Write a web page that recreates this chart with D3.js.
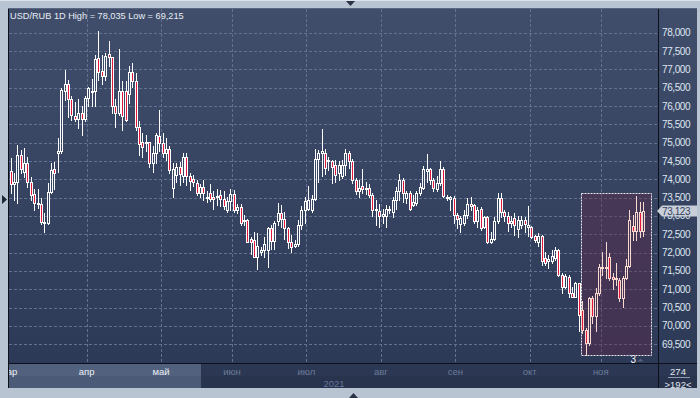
<!DOCTYPE html>
<html>
<head>
<meta charset="utf-8">
<script src="https://cdn.jsdelivr.net/npm/d3@7"></script>
<style>
  html, body { margin: 0; padding: 0; background: #b9c4d3; overflow: hidden; }
  svg { display: block; font-family: "Liberation Sans", Arial, sans-serif; }
</style>
</head>
<body>
<div id="chart"></div>
<script>
// daily USD/RUB candles (RUB)
const openPrices = [
  74.23, 73.86, 73.92, 74.66, 74.21, 74.45, 73.92, 73.60, 73.35, 73.33,
  72.83, 72.80, 73.65, 74.27, 74.71, 74.76, 76.42, 76.60, 76.20, 75.74,
  75.65, 75.82, 75.65, 76.21, 76.40, 76.40, 77.30, 76.96, 76.83, 77.41,
  77.33, 76.00, 75.80, 76.41, 76.40, 76.33, 76.92, 76.67, 75.42, 75.03,
  75.01, 75.01, 74.44, 74.71, 75.17, 74.99, 74.73, 74.82,
  73.76, 74.12, 74.33, 74.08, 74.62, 74.09, 74.00, 73.91, 73.64, 73.79,
  73.51, 73.64, 73.51, 73.51, 73.58, 73.46, 73.15, 73.42, 73.60, 73.17,
  73.24, 72.87, 72.88, 72.37, 72.35, 71.89, 72.03, 72.06, 72.06, 72.67,
  72.32, 72.85, 73.08, 72.91, 72.67, 72.28, 72.18, 72.24, 72.76, 73.17,
  73.19, 73.17, 73.46, 74.55, 74.71, 74.73, 74.49, 74.49,
  74.39, 74.17, 74.08, 74.39, 74.73, 74.49, 73.99, 73.67, 73.82, 73.73,
  73.76, 73.58, 73.17, 73.14, 73.00, 73.00, 73.19, 73.12, 73.44, 73.67,
  73.99, 73.49, 73.64, 73.30, 73.35, 73.62, 73.76, 74.24, 74.28, 73.97,
  73.73, 73.89, 74.28, 73.53, 73.46, 73.49, 73.03, 72.78, 72.80, 73.03,
  73.33, 73.30, 72.85, 73.19, 72.71, 72.97, 72.28,
  72.37, 72.85, 73.49, 73.12, 73.00, 72.80, 72.94, 72.64, 72.76, 72.89,
  72.71, 72.69, 72.46, 72.30, 72.46, 71.85, 71.78, 71.78, 71.85, 72.06,
  71.39, 71.07, 71.33, 70.91, 70.80, 71.17, 70.44, 69.89, 69.53, 70.76,
  70.28, 70.89, 71.60, 71.57, 71.89, 71.33, 71.28, 71.26, 70.76, 71.30,
  71.64, 72.73, 72.58, 73.12, 72.58
];
const closePrices = [
  73.86, 73.92, 74.66, 74.27, 74.45, 73.92, 73.57, 73.35, 73.36, 72.83,
  72.81, 73.65, 74.25, 74.16, 74.78, 76.44, 76.60, 76.20, 75.76, 75.65,
  75.82, 75.65, 76.21, 76.50, 76.42, 77.28, 76.94, 76.82, 77.37, 77.35,
  76.00, 75.80, 76.41, 75.74, 75.62, 76.92, 76.67, 75.42, 74.97, 74.88,
  75.03, 74.44, 74.71, 75.21, 74.99, 74.73, 74.82, 74.25,
  74.28, 74.33, 74.15, 74.62, 74.08, 73.96, 73.94, 73.64, 73.79, 73.62,
  73.49, 73.46, 73.46, 73.55, 73.46, 73.26, 73.42, 73.60, 73.17, 73.24,
  72.80, 72.89, 72.28, 72.28, 71.89, 72.18, 72.08, 72.24, 72.67, 72.32,
  72.80, 73.08, 72.91, 72.67, 72.28, 72.15, 72.24, 72.76, 73.17, 73.42,
  73.44, 73.46, 74.55, 74.73, 74.76, 74.30, 74.53, 74.35,
  74.12, 74.39, 74.39, 74.73, 74.49, 73.97, 73.67, 73.76, 73.73, 73.76,
  73.58, 73.17, 73.19, 73.00, 73.06, 73.19, 73.15, 73.44, 73.69, 73.99,
  73.64, 73.62, 73.19, 73.37, 73.62, 73.79, 74.28, 74.28, 73.97, 73.76,
  73.91, 74.28, 73.55, 73.49, 73.51, 73.03, 72.91, 72.94, 73.03, 73.33,
  73.28, 72.85, 73.17, 72.67, 72.97, 72.28, 72.37,
  72.85, 73.49, 73.12, 73.00, 72.80, 72.85, 72.76, 72.89, 72.89, 72.78,
  72.76, 72.44, 72.35, 72.46, 71.78, 71.71, 71.82, 71.91, 72.06, 71.39,
  71.07, 71.35, 70.91, 70.80, 71.17, 70.30, 69.89, 69.53, 70.76, 70.28,
  70.89, 71.60, 71.57, 71.60, 71.30, 71.28, 71.30, 70.76, 71.30, 71.64,
  72.89, 72.58, 73.12, 72.58, 73.123
];
const highPrices = [
  74.59, 74.16, 74.95, 74.80, 74.86, 74.62, 74.07, 73.73, 73.75, 73.48,
  73.07, 73.89, 74.44, 74.48, 75.12, 76.49, 76.99, 76.71, 76.26, 76.12,
  76.19, 76.00, 76.26, 76.53, 76.73, 77.40, 78.035, 77.40, 77.44, 77.76,
  77.35, 76.20, 77.56, 76.67, 76.67, 77.08, 77.17, 76.90, 75.58, 75.26,
  75.21, 75.03, 74.91, 75.26, 75.89, 75.26, 75.12, 74.90,
  74.44, 74.44, 74.46, 74.71, 74.71, 74.17, 74.12, 73.97, 73.88, 73.99,
  73.67, 73.88, 73.67, 73.73, 73.71, 73.67, 73.51, 73.73, 73.71, 73.33,
  73.33, 73.03, 72.91, 72.44, 72.55, 72.53, 72.15, 72.44, 72.71, 72.76,
  72.85, 73.35, 73.30, 73.12, 72.71, 72.49, 72.35, 72.89, 73.26, 73.51,
  73.82, 73.58, 74.82, 74.79, 75.37, 74.82, 74.62, 74.53,
  74.53, 74.49, 74.53, 74.82, 74.76, 74.55, 74.03, 73.99, 74.28, 73.94,
  73.88, 73.62, 73.44, 73.33, 73.19, 73.30, 73.28, 73.51, 73.80, 74.15,
  74.03, 73.69, 73.67, 73.58, 73.67, 73.89, 74.37, 74.69, 74.30, 74.03,
  74.10, 74.51, 74.35, 73.58, 73.55, 73.55, 73.08, 73.00, 73.17, 73.48,
  73.53, 73.32, 73.24, 73.24, 73.00, 73.00, 72.55,
  72.97, 73.62, 73.62, 73.17, 73.12, 73.00, 73.08, 73.00, 73.00, 72.97,
  73.26, 72.73, 72.49, 72.53, 72.49, 72.03, 71.94, 72.08, 72.15, 72.09,
  71.44, 71.42, 71.39, 71.07, 71.21, 71.18, 70.67, 69.94, 70.80, 70.82,
  71.03, 71.69, 72.03, 72.28, 71.98, 71.44, 71.71, 71.30, 71.37, 71.82,
  73.17, 73.03, 73.55, 73.37, 73.37
];
const lowPrices = [
  73.62, 73.44, 73.35, 74.16, 74.07, 73.80, 73.44, 73.16, 73.21, 72.78,
  72.55, 72.78, 73.62, 73.75, 74.21, 74.71, 76.17, 75.71, 75.62, 75.60,
  75.40, 75.21, 75.58, 75.99, 75.99, 75.99, 76.71, 76.60, 76.71, 77.08,
  75.80, 75.44, 75.76, 75.35, 75.58, 76.08, 76.53, 75.35, 74.66, 74.62,
  74.76, 74.35, 74.21, 74.44, 74.76, 74.62, 74.53, 74.16,
  73.51, 73.94, 73.85, 73.94, 73.85, 73.71, 73.82, 73.58, 73.51, 73.44,
  73.39, 73.42, 73.19, 73.30, 73.26, 73.19, 73.10, 73.15, 73.12, 73.08,
  72.76, 72.76, 72.28, 71.97, 71.88, 71.55, 71.94, 71.89, 71.62, 72.09,
  72.09, 72.76, 72.71, 72.37, 72.12, 72.03, 72.15, 72.17, 72.64, 72.80,
  73.17, 73.12, 73.44, 73.94, 74.08, 74.15, 74.26, 73.89,
  73.94, 73.97, 74.03, 74.12, 74.30, 73.89, 73.60, 73.51, 73.64, 73.60,
  73.53, 73.00, 72.76, 72.69, 72.80, 72.71, 73.08, 72.98, 73.19, 73.44,
  73.39, 73.35, 73.17, 73.26, 73.30, 73.58, 73.73, 73.94, 73.88, 73.67,
  73.67, 73.85, 73.51, 73.44, 73.17, 72.80, 72.67, 72.55, 72.76, 72.94,
  73.17, 72.82, 72.69, 72.62, 72.67, 72.26, 72.26,
  72.35, 72.80, 72.98, 72.85, 72.60, 72.71, 72.48, 72.42, 72.67, 72.57,
  72.46, 72.39, 72.30, 72.19, 71.67, 71.67, 71.57, 71.71, 71.80, 71.37,
  70.91, 71.03, 70.80, 70.78, 70.78, 69.85, 69.80, 69.215, 69.48, 70.08,
  69.85, 70.85, 71.39, 71.30, 71.26, 71.00, 71.12, 70.69, 70.51, 71.28,
  71.60, 72.35, 72.35, 72.44, 72.46
];

const monthLabels = ['мар', 'апр', 'май', 'июн', 'июл', 'авг', 'сен', 'окт', 'ноя'];
const monthStartIndex = [0, 23, 45, 66, 88, 110, 132, 154, 175];
const priceTicks = [69.5, 70, 70.5, 71, 71.5, 72, 72.5, 73, 73.5, 74, 74.5, 75, 75.5, 76, 76.5, 77, 77.5, 78];
const yearLabel = '2021';
const titleText = 'USD/RUB 1D High = 78,035 Low = 69,215';
const lastPrice = 73.123;
const barsTotal = '274';
const barsVisible = '>192<';
const zoneStart = 169;   // first candle of the marked zone
const zoneLabel = '3';

const fmt = v => d3.format('.3f')(v).replace('.', ',');

////////////////////////////////////////////////////////////////////////////////
// BASE CHART
////////////////////////////////////////////////////////////////////////////////
class Chart {
  constructor(opts) {
    this.element = opts.element;
    this.width = opts.width;
    this.height = opts.height;
    this.margin = opts.margin;

    this.marginConvention();
  }

  marginConvention() {
    this.plotWidth = this.width - this.margin.left - this.margin.right;
    this.plotHeight = this.height - this.margin.top - this.margin.bottom;

    this.svg = d3.select(this.element).append('svg')
      .attr('width', this.width)
      .attr('height', this.height);

    this.defs = this.svg.append('defs');
    this.frame = this.svg.append('g').classed('frame', true);

    this.plot = this.svg.append('g')
      .classed('plot', true)
      .attr('transform', `translate(${this.margin.left}, ${this.margin.top})`);
  }
}

////////////////////////////////////////////////////////////////////////////////
// CANDLESTICK CHART
////////////////////////////////////////////////////////////////////////////////
class CandleChart extends Chart {
  constructor(opts) {
    super(opts);

    this.data = openPrices.map((o, i) => ({
      i, open: o, close: closePrices[i], high: highPrices[i], low: lowPrices[i]
    }));

    this.scales();
    this.background();
    this.grid();
    this.zone();
    this.createCandles();
    this.axes();
    this.decorations();
  }

  scales() {
    // local plot coords (plot starts at 9,9)
    this.xScale = d3.scaleLinear()
      .domain([0, this.data.length - 1])
      .range([1.5, 634]);

    this.yScale = d3.scaleLinear()
      .domain([69.5, 78])
      .range([335.3, 23.7]);
  }

  background() {
    const grad = this.defs.append('linearGradient')
      .attr('id', 'panelGrad')
      .attr('x1', 0).attr('y1', 0).attr('x2', 0).attr('y2', 1);
    grad.append('stop').attr('offset', '0%').attr('stop-color', '#404e6b');
    grad.append('stop').attr('offset', '100%').attr('stop-color', '#2c3957');

    // outer light frame
    this.frame.append('rect')
      .attr('width', this.width).attr('height', this.height)
      .attr('fill', '#b9c4d3');
    this.frame.append('line')
      .attr('x1', 0).attr('x2', this.width).attr('y1', 0.5).attr('y2', 0.5)
      .attr('stroke', '#dde3ec');

    // chart + price axis panel
    this.frame.append('rect')
      .attr('x', 8).attr('y', 8).attr('width', 689).attr('height', 355)
      .attr('fill', 'url(#panelGrad)');

    // bottom time axis
    this.frame.append('rect')
      .attr('x', 8).attr('y', 363).attr('width', 689).attr('height', 13)
      .attr('fill', '#2b3753');
    this.frame.append('rect')
      .attr('x', 8).attr('y', 376).attr('width', 689).attr('height', 12)
      .attr('fill', '#28334d');

    // scroll thumb
    this.frame.append('rect')
      .attr('x', 9).attr('y', 364).attr('width', 192).attr('height', 12)
      .attr('fill', '#52617e');
    this.frame.append('rect')
      .attr('x', 9).attr('y', 376).attr('width', 192).attr('height', 12)
      .attr('fill', '#4a5a77');
    this.frame.append('line')
      .attr('x1', 201.5).attr('x2', 201.5).attr('y1', 364).attr('y2', 388)
      .attr('stroke', '#2a3550');

    // separators
    const sep = '#0c1018';
    this.frame.append('line')
      .attr('x1', 8.5).attr('x2', 8.5).attr('y1', 8).attr('y2', 388).attr('stroke', sep);
    this.frame.append('line')
      .attr('x1', 658.5).attr('x2', 658.5).attr('y1', 8).attr('y2', 388).attr('stroke', sep);
    this.frame.append('line')
      .attr('x1', 8).attr('x2', 697).attr('y1', 363.5).attr('y2', 363.5).attr('stroke', sep);
    this.frame.append('line')
      .attr('x1', 8).attr('x2', 697).attr('y1', 8.5).attr('y2', 8.5).attr('stroke', '#5a6780');
  }

  grid() {
    const g = this.plot.append('g').classed('grid', true);

    g.selectAll('line.h').data(priceTicks).enter().append('line')
      .attr('class', 'h')
      .attr('x1', 0).attr('x2', this.plotWidth)
      .attr('y1', d => Math.round(this.yScale(d)) + 0.5)
      .attr('y2', d => Math.round(this.yScale(d)) + 0.5)
      .attr('stroke', '#62718f')
      .attr('stroke-dasharray', '3,2');

    g.selectAll('line.v').data(monthStartIndex.slice(1)).enter().append('line')
      .attr('class', 'v')
      .attr('x1', d => Math.round(this.xScale(d - 0.5)) + 0.5)
      .attr('x2', d => Math.round(this.xScale(d - 0.5)) + 0.5)
      .attr('y1', 0).attr('y2', this.plotHeight)
      .attr('stroke', '#62718f')
      .attr('stroke-dasharray', '3,2');
  }

  zone() {
    const part = this.data.slice(zoneStart);
    const top = d3.max(part, d => d.high);
    const bottom = d3.min(part, d => d.low);

    const x0 = Math.round(this.xScale(zoneStart) - 1) + 0.5;
    const x1 = Math.round(this.xScale(this.data.length - 1) + 8) + 0.5;
    const y0 = Math.round(this.yScale(top) - 3) + 0.5;
    const y1 = Math.round(this.yScale(bottom)) + 0.5;

    this.plot.append('rect')
      .attr('x', x0).attr('y', y0)
      .attr('width', x1 - x0).attr('height', y1 - y0)
      .attr('fill', 'rgba(100, 40, 72, 0.4)')
      .attr('stroke', '#e9e6ee')
      .attr('stroke-dasharray', '2,1');

    this.plot.append('text')
      .attr('x', x1 - 21).attr('y', y1 + 7)
      .attr('font-size', '10px')
      .attr('fill', '#f2f2f6')
      .text(zoneLabel);
    this.plot.append('path')
      .attr('d', `M${x1 - 14},${y1 + 6} l6,0 l-3,-3 z`)
      .attr('fill', '#56637d');
  }

  createCandles() {
    const g = this.plot.append('g').classed('candles', true);

    const candle = g.selectAll('g.candle').data(this.data).enter().append('g')
      .attr('class', 'candle');

    const colour = d => d.i >= zoneStart ? '#f8d8cf' : '#ffffff';
    const cx = d => Math.round(this.xScale(d.i));
    const yTop = d => Math.round(this.yScale(Math.max(d.open, d.close)));
    const yBot = d => Math.max(Math.round(this.yScale(Math.min(d.open, d.close))), yTop(d) + 1);

    // upper wick
    candle.append('line')
      .attr('x1', d => cx(d) + 0.5).attr('x2', d => cx(d) + 0.5)
      .attr('y1', d => Math.round(this.yScale(d.high)))
      .attr('y2', d => yTop(d))
      .attr('stroke', colour);

    // lower wick
    candle.append('line')
      .attr('x1', d => cx(d) + 0.5).attr('x2', d => cx(d) + 0.5)
      .attr('y1', d => yBot(d))
      .attr('y2', d => Math.round(this.yScale(d.low)) + 1)
      .attr('stroke', colour);

    // body
    candle.append('rect')
      .attr('x', d => cx(d) - 0.5)
      .attr('y', d => yTop(d) + 0.5)
      .attr('width', 2)
      .attr('height', d => yBot(d) - yTop(d))
      .attr('fill', d => d.close < d.open ? '#e2173c' : 'none')
      .attr('stroke', colour);
  }

  axes() {
    const ax = this.svg.append('g')
      .attr('transform', `translate(${this.margin.left}, ${this.margin.top})`);

    // price axis labels on the right (73,000 sits mostly under the price tag, as in the terminal)
    ax.selectAll('text.price').data(priceTicks).enter().append('text')
      .attr('class', 'price')
      .attr('x', 653)
      .attr('y', d => this.yScale(d) + 3.5)
      .attr('font-size', '10px')
      .attr('letter-spacing', '-0.4px')
      .attr('fill', '#dfe6f1')
      .text(d => fmt(d));

    // month labels
    ax.selectAll('text.month').data(monthStartIndex).enter().append('text')
      .attr('class', 'month')
      .attr('x', d => this.xScale(d - 0.5))
      .attr('y', 366)
      .attr('text-anchor', 'middle')
      .attr('font-size', '9.5px')
      .attr('fill', d => this.xScale(d - 0.5) + 9 < 201 ? '#eef2f8' : '#6b7b99')
      .text((d, i) => monthLabels[i]);

    ax.append('text')
      .attr('x', 325).attr('y', 377.5)
      .attr('text-anchor', 'middle')
      .attr('font-size', '9.5px')
      .attr('fill', '#66769a')
      .text(yearLabel);
  }

  decorations() {
    // clip left overflow of the first month label
    this.svg.append('rect')
      .attr('x', 0).attr('y', 363).attr('width', 8).attr('height', 35)
      .attr('fill', '#b9c4d3');
    this.svg.append('line')
      .attr('x1', 8.5).attr('x2', 8.5).attr('y1', 363).attr('y2', 388).attr('stroke', '#0c1018');
    this.svg.append('rect')
      .attr('x', 0).attr('y', 388).attr('width', this.width).attr('height', 10)
      .attr('fill', '#b9c4d3');

    // title
    this.svg.append('text')
      .attr('x', 10).attr('y', 18.5)
      .attr('font-size', '9.2px')
      .attr('fill', '#e8edf5')
      .text(titleText);

    // last price tag
    const py = Math.round(this.yScale(lastPrice) + this.margin.top);
    this.svg.append('path')
      .attr('d', `M657,${py} L662,${py - 5.5} L697,${py - 5.5} L697,${py + 5.5} L662,${py + 5.5} Z`)
      .attr('fill', '#c9cfd9');
    this.svg.append('text')
      .attr('x', 662).attr('y', py + 3.5)
      .attr('font-size', '10px')
      .attr('letter-spacing', '-0.4px')
      .attr('fill', '#34425f')
      .text(fmt(lastPrice));

    // bar counters
    this.svg.append('text')
      .attr('x', 678).attr('y', 374.5)
      .attr('text-anchor', 'middle')
      .attr('font-size', '9.5px')
      .attr('fill', '#e3e8f0')
      .text(barsTotal);
    this.svg.append('line')
      .attr('x1', 668).attr('x2', 690).attr('y1', 377.5).attr('y2', 377.5)
      .attr('stroke', '#8e9ab0');
    this.svg.append('text')
      .attr('x', 678).attr('y', 387.5)
      .attr('text-anchor', 'middle')
      .attr('font-size', '9.5px')
      .attr('fill', '#e3e8f0')
      .text(barsVisible);

    // small scroll arrows in the frame
    this.svg.append('path').attr('d', 'M346,1 L355,1 L350.5,6 Z').attr('fill', '#2a3245');
    this.svg.append('path').attr('d', 'M349,398 L358,398 L353.5,393 Z').attr('fill', '#2a3245');
    this.svg.append('path').attr('d', 'M2,195 L7,199.5 L2,204 Z').attr('fill', '#1e2536');
  }
}

const chart = new CandleChart({
  element: document.querySelector('#chart'),
  width: 700,
  height: 398,
  margin: {top: 9, right: 42, bottom: 35, left: 9}
});
</script>
</body>
</html>
